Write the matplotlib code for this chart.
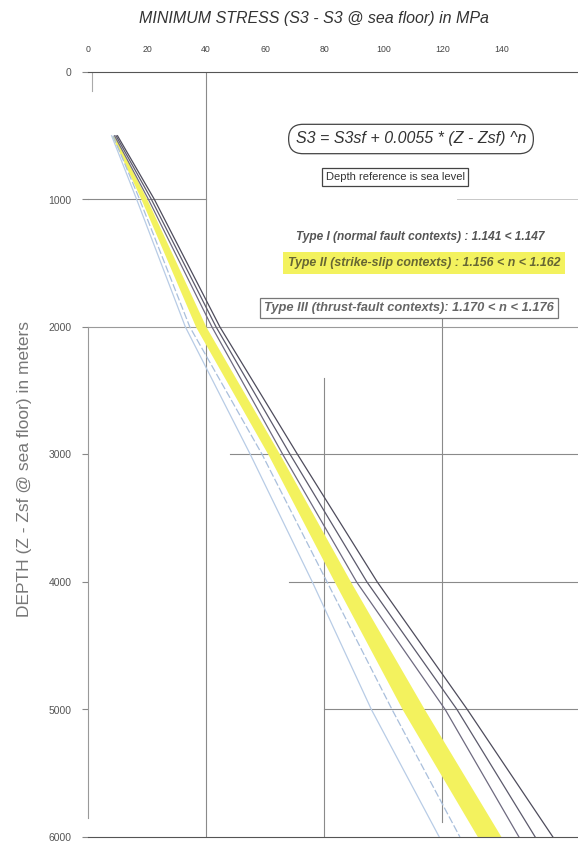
import matplotlib
matplotlib.use("Agg")
import matplotlib.pyplot as plt

# ---- data ----
depths = [500, 1000, 2000, 3000, 4000, 5000, 6000]
# Type I (normal fault contexts) - light blue lines
type1_low = [8, 16.5, 33, 55, 76, 96, 119]
type1_high = [8.5, 17.5, 34.5, 59, 81, 103, 126]
# Type II (strike-slip contexts) - yellow band
type2_low = [8, 18, 36.5, 61, 83.5, 106.5, 132]
type2_high = [9, 20, 40, 65, 89, 114, 140]
# Type III (thrust-fault contexts) - dark lines
type3_a = [9, 20.5, 42, 66, 91, 121, 146]
type3_b = [9.5, 21.5, 43.4, 68.5, 94.5, 125, 151.5]
type3_c = [10, 22.5, 44.7, 71, 98, 128.5, 157.5]

xticks = [0, 20, 40, 60, 80, 100, 120, 140]
yticks = [0, 1000, 2000, 3000, 4000, 5000, 6000]

title = "MINIMUM STRESS (S3 - S3 @ sea floor) in MPa"
ylabel = "DEPTH (Z - Zsf @ sea floor) in meters"
formula = "S3 = S3sf + 0.0055 * (Z - Zsf) ^n"
depth_ref = "Depth reference is sea level"
t1 = "Type I (normal fault contexts) : 1.141 < 1.147"
t2 = "Type II (strike-slip contexts) : 1.156 < n < 1.162"
t3 = "Type III (thrust-fault contexts): 1.170 < n < 1.176"

plt.rcParams['font.family'] = ['Liberation Sans', 'DejaVu Sans']

W, H = 578, 846
fig = plt.figure(figsize=(W / 100, H / 100), dpi=100)
x0, y0, x1, y1 = 88, 72, 578, 837
ax = fig.add_axes([x0 / W, 1 - y1 / H, (x1 - x0) / W, (y1 - y0) / H])
ax.set_xlim(0, 166)
ax.set_ylim(6000, 0)

def fx(px):
    return px / W

def fy(py):
    return 1 - py / H

# grid (partial, like the scanned reference)
gc = '#8a8a8a'
ax.axvline(40, color=gc, lw=0.8)
ax.axvline(80, ymin=0, ymax=1 - 2400 / 6000, color=gc, lw=0.8)
ax.axvline(120, ymin=0.02, ymax=1 - 1800 / 6000, color=gc, lw=0.8)
ax.axhline(1000, xmin=0, xmax=40 / 166, color=gc, lw=0.8)
ax.axhline(1000, xmin=125 / 166, xmax=1, color='#c8c8c8', lw=0.7)
ax.axhline(2000, xmin=0, xmax=1, color='#9a9a9a', lw=0.8)
ax.axhline(3000, xmin=48 / 166, xmax=1, color=gc, lw=0.8)
ax.axhline(4000, xmin=68 / 166, xmax=1, color=gc, lw=0.8)
ax.axhline(5000, xmin=80 / 166, xmax=1, color=gc, lw=0.8)
ax.axvline(1.5, ymin=1 - 150 / 6000, ymax=1, color='#aaaaaa', lw=0.8)

# data
ax.fill_betweenx(depths, type2_low, type2_high, color='#f3f25e', lw=0, zorder=2)
ax.plot(type1_low, depths, color='#b8cce6', lw=0.9, zorder=3)
ax.plot(type1_high, depths, color='#a9bfdc', lw=0.9, ls=(0, (6, 2)), zorder=3)
ax.plot(type3_a, depths, color='#6e6a80', lw=0.9, zorder=3)
ax.plot(type3_b, depths, color='#5c5a6c', lw=0.9, zorder=3)
ax.plot(type3_c, depths, color='#4e4c5c', lw=0.9, zorder=3)

# spines and ticks
ax.spines['right'].set_visible(False)
ax.spines['top'].set_color('#555555')
ax.spines['bottom'].set_color('#555555')
ax.spines['left'].set_color('#999999')
ax.spines['left'].set_bounds(2000, 5850)
ax.xaxis.tick_top()
ax.set_xticks(xticks)
ax.set_xticklabels([str(v) for v in xticks])
ax.set_yticks(yticks)
ax.set_yticklabels([str(v) for v in yticks])
ax.tick_params(axis='x', length=0, pad=13, labelsize=6.3, labelcolor='#444444')
ax.tick_params(axis='y', length=4, pad=8, labelsize=7.5, labelcolor='#555555', color='#888888')

fig.text(fx(314), fy(18), title, ha='center', va='center', fontsize=11.5,
         style='italic', color='#333333')
fig.text(fx(25), fy(469), ylabel, ha='center', va='center', rotation=90,
         fontsize=12.5, color='#777777')

fig.text(fx(411), fy(139), formula, ha='center', va='center', fontsize=11.5,
         style='italic', color='#333333',
         bbox=dict(boxstyle='round,pad=0.45,rounding_size=0.9', fc='white', ec='#444444', lw=0.9))
fig.text(fx(395), fy(177), depth_ref, ha='center', va='center', fontsize=8,
         color='#333333',
         bbox=dict(boxstyle='square,pad=0.35', fc='white', ec='#444444', lw=0.9))
fig.text(fx(420), fy(237), t1, ha='center', va='center', fontsize=8.6,
         style='italic', weight='bold', color='#555555')
fig.text(fx(424), fy(263), t2, ha='center', va='center', fontsize=8.9,
         style='italic', weight='bold', color='#666633',
         bbox=dict(boxstyle='square,pad=0.4', fc='#f3f25e', ec='none'))
fig.text(fx(409), fy(308), t3, ha='center', va='center', fontsize=9.3,
         style='italic', weight='bold', color='#666666',
         bbox=dict(boxstyle='square,pad=0.3', fc='white', ec='#777777', lw=0.9))

fig.savefig('out.png', dpi=100)
